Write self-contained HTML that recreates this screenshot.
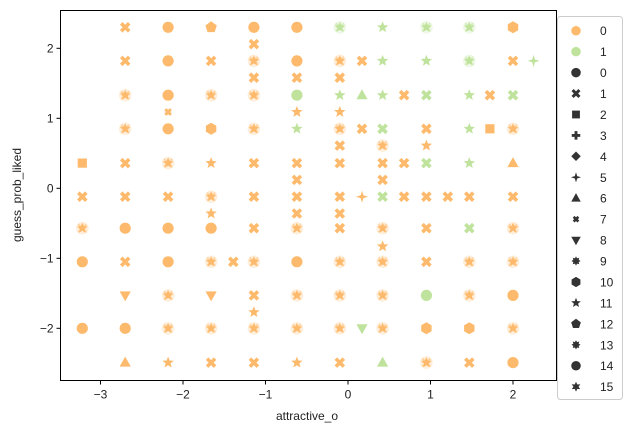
<!DOCTYPE html>
<html><head><meta charset="utf-8"><style>
body{margin:0;background:#fff;}
svg{display:block;font-family:"Liberation Sans","DejaVu Sans",sans-serif;}
</style></head><body>
<svg id="chart" width="633" height="433" viewBox="0 0 633 433">
<rect x="0" y="0" width="633" height="433" fill="#fff"/>
<g id="marks"></g>
<g id="axes"></g>
<text x="307" y="420" font-size="12" text-anchor="middle" fill="#222">attractive_o</text>
<text x="21" y="195" font-size="12" text-anchor="middle" fill="#222" transform="rotate(-90 21 195)">guess_prob_liked</text>
<g id="legend"></g>
</svg>
<script>
const xTicks = [-3, -2, -1, 0, 1, 2];
const yTicks = [-2, -1, 0, 1, 2];
const hueColors = ["#fdba6c", "#bfe39c"];
const rowY = [2.30, 2.06, 1.82, 1.58, 1.33, 1.09, 0.85, 0.61, 0.36, 0.12, -0.12, -0.36, -0.57, -0.83, -1.05, -1.53, -1.77, -2.0, -2.49];
const rowX = [
 [-2.70,-2.18,-1.66,-1.14,-0.62,-0.10,0.42,0.95,1.47,2.0],
 [-1.14],
 [-2.70,-2.18,-1.66,-1.14,-0.62,-0.10,0.17,0.42,0.95,1.47,2.0,2.25],
 [-1.14,-0.62,-0.10],
 [-2.70,-2.18,-1.66,-1.14,-0.62,-0.10,0.17,0.42,0.68,0.95,1.47,1.72,2.0],
 [-2.18,-0.62,-0.10],
 [-2.70,-2.18,-1.66,-1.14,-0.62,-0.10,0.17,0.42,0.95,1.47,1.72,2.0],
 [-0.10,0.42,0.95],
 [-3.22,-2.70,-2.18,-1.66,-1.14,-0.62,-0.10,0.42,0.68,0.95,1.47,2.0],
 [-0.62,0.42],
 [-3.22,-2.70,-2.18,-1.66,-1.14,-0.62,-0.10,0.17,0.42,0.68,0.95,1.21,1.47,2.0],
 [-1.66,-0.62,-0.10],
 [-3.22,-2.70,-2.18,-1.66,-1.14,-0.62,-0.10,0.42,0.95,1.47,2.0],
 [0.42],
 [-3.22,-2.70,-2.18,-1.66,-1.39,-1.14,-0.62,-0.10,0.42,0.95,1.47,2.0],
 [-2.70,-2.18,-1.66,-1.14,-0.62,-0.10,0.42,0.95,1.47,2.0],
 [-1.14],
 [-3.22,-2.70,-2.18,-1.66,-1.14,-0.62,-0.10,0.17,0.42,0.95,1.47,2.0],
 [-2.70,-2.18,-1.66,-1.14,-0.62,-0.10,0.42,0.95,1.47,2.0]
];
const rowHue = [
 [0,0,0,0,0,1,1,1,1,0],
 [0],
 [0,0,0,0,0,0,0,1,1,1,0,1],
 [0,0,0],
 [0,0,0,0,1,1,1,1,0,1,1,0,1],
 [0,0,0],
 [0,0,0,0,1,0,0,1,0,1,0,0],
 [0,0,0],
 [0,0,0,0,0,0,0,0,0,1,1,0],
 [0,0],
 [0,0,0,0,0,0,0,0,1,0,0,0,0,0],
 [0,0,0],
 [0,0,0,0,0,0,0,0,0,1,0],
 [0],
 [0,0,0,0,0,0,0,0,0,0,0,0],
 [0,0,0,0,0,0,0,1,0,0],
 [0],
 [0,0,0,0,0,0,0,1,0,0,0,0],
 [0,0,0,0,0,0,1,0,0,0]
];
const rowMarker = [
 ["x","o","p","o","o","b","*","b","b","h"],
 ["x"],
 ["x","o","x","b","o","b","x","*","*","b","x","d"],
 ["x","x","x"],
 ["b","o","b","b","o","*","^","*","x","x","*","x","x"],
 ["7","*","*"],
 ["b","o","h","b","*","b","x","x","x","*","s","b"],
 ["x","b","*"],
 ["s","x","b","*","x","x","x","x","x","x","*","^"],
 ["x","x"],
 ["x","x","x","b","x","x","x","d","x","x","x","x","x","x"],
 ["*","x","x"],
 ["b","o","o","o","x","b","x","b","x","x","b"],
 ["*"],
 ["o","x","o","b","x","b","o","b","b","x","b","b"],
 ["v","b","v","x","b","b","b","o","b","o"],
 ["*"],
 ["o","o","b","b","b","b","b","v","b","h","h","b"],
 ["^","*","x","x","*","x","^","b","x","o"]
];
const legendLabels = ["0","1","0","1","2","3","4","5","6","7","8","9","10","11","12","13","14","15"];
const legendMarkers = ["o","o","o","x","s","P","D","d","^","7","v","8","h","*","p","8","o","6"];
const legendHue = [0,1,-1,-1,-1,-1,-1,-1,-1,-1,-1,-1,-1,-1,-1,-1,-1,-1];

const PL=60.5, PR=556.5, PT=10.5, PB=380.5;
function sx(v){return 348 + v*82.5;}
function sy(v){return 188.3 - v*70;}
const NS="http://www.w3.org/2000/svg";
function mk(tag, attrs, parent){const e=document.createElementNS(NS,tag);for(const k in attrs)e.setAttribute(k,attrs[k]);parent.appendChild(e);return e;}
function starPts(n, ro, ri, rot){let p=[];for(let i=0;i<2*n;i++){const r=i%2?ri:ro;const a=rot+Math.PI*i/n;p.push((r*Math.sin(a)).toFixed(2)+","+(-r*Math.cos(a)).toFixed(2));}return p.join(" ");}
function polyPts(n,r,rot){let p=[];for(let i=0;i<n;i++){const a=rot+2*Math.PI*i/n;p.push((r*Math.sin(a)).toFixed(2)+","+(-r*Math.cos(a)).toFixed(2));}return p.join(" ");}
function drawMarker(g, m, c){
  switch(m){
    case "o": mk("circle",{r:5.6,fill:c},g);break;
    case "h": mk("polygon",{points:polyPts(6,6,0),fill:c},g);break;
    case "p": mk("polygon",{points:polyPts(5,6,0),fill:c},g);break;
    case "s": mk("rect",{x:-4.6,y:-4.6,width:9.2,height:9.2,fill:c},g);break;
    case "x": mk("path",{d:"M-4,-4L4,4M-4,4L4,-4",stroke:c,"stroke-width":3.6,fill:"none"},g);break;
    case "7": mk("path",{d:"M-2.8,-2.8L2.8,2.8M-2.8,2.8L2.8,-2.8",stroke:c,"stroke-width":3,fill:"none"},g);break;
    case "P": mk("path",{d:"M-5,0L5,0M0,-5L0,5",stroke:c,"stroke-width":3.4,fill:"none"},g);break;
    case "D": mk("polygon",{points:polyPts(4,5.6,0),fill:c},g);break;
    case "d": mk("polygon",{points:starPts(4,6,2,0),fill:c},g);break;
    case "^": mk("polygon",{points:"0,-6 5.6,4 -5.6,4",fill:c},g);break;
    case "v": mk("polygon",{points:"0,6 5.6,-4 -5.6,-4",fill:c},g);break;
    case "*": mk("polygon",{points:starPts(5,6,2.6,0),fill:c},g);break;
    case "8": mk("polygon",{points:starPts(8,5.4,3.4,0),fill:c},g);break;
    case "6": mk("polygon",{points:starPts(6,5.8,3,0),fill:c},g);break;
    case "b":
      mk("circle",{r:6.3,fill:c,opacity:0.25},g);
      mk("path",{d:"M-4,-4L4,4M-4,4L4,-4",stroke:c,"stroke-width":2,fill:"none",opacity:0.5},g);
      mk("polygon",{points:starPts(5,5.6,2.6,0),fill:c},g);
      break;
  }
}
const marks=document.getElementById("marks");
for(let r=0;r<rowY.length;r++){
  for(let i=0;i<rowX[r].length;i++){
    const g=mk("g",{transform:`translate(${sx(rowX[r][i]).toFixed(1)},${sy(rowY[r]).toFixed(1)})`},marks);
    
    
    drawMarker(g,rowMarker[r][i],hueColors[rowHue[r][i]]);
  }
}
const axes=document.getElementById("axes");
mk("rect",{x:PL,y:PT,width:PR-PL,height:PB-PT,fill:"none",stroke:"#000","stroke-width":1},axes);
xTicks.forEach(t=>{
  const x=sx(t);
  const l=mk("line",{x1:x,x2:x,y1:PB,y2:PB+4,stroke:"#000"},axes);
  
  
  const tx=mk("text",{x:x,y:PB+18,"font-size":12,"text-anchor":"middle",fill:"#222"},axes);
  
  
  tx.textContent=(t<0?"\u2212"+(-t):String(t));
});
yTicks.forEach(t=>{
  const y=sy(t);
  const l=mk("line",{x1:PL-4,x2:PL,y1:y,y2:y,stroke:"#000"},axes);
  
  
  const tx=mk("text",{x:PL-7,y:y+4,"font-size":12,"text-anchor":"end",fill:"#222"},axes);
  
  
  tx.textContent=(t<0?"\u2212"+(-t):String(t));
});
const leg=document.getElementById("legend");
mk("rect",{x:557.5,y:16.5,width:65,height:383,rx:3,fill:"#fff",stroke:"#ccc"},leg);
legendLabels.forEach((lab,i)=>{
  const y=30.7+i*20.94;
  const g=mk("g",{},leg);
  
  
  const mg=mk("g",{transform:`translate(576,${y.toFixed(1)}) scale(0.85)`},g);
  drawMarker(mg,legendMarkers[i],legendHue[i]>=0?hueColors[legendHue[i]]:"#333");
  const t=mk("text",{x:600,y:y+4.5,"font-size":12,fill:"#222"},g);
  t.textContent=lab;
});
</script>
</body></html>
